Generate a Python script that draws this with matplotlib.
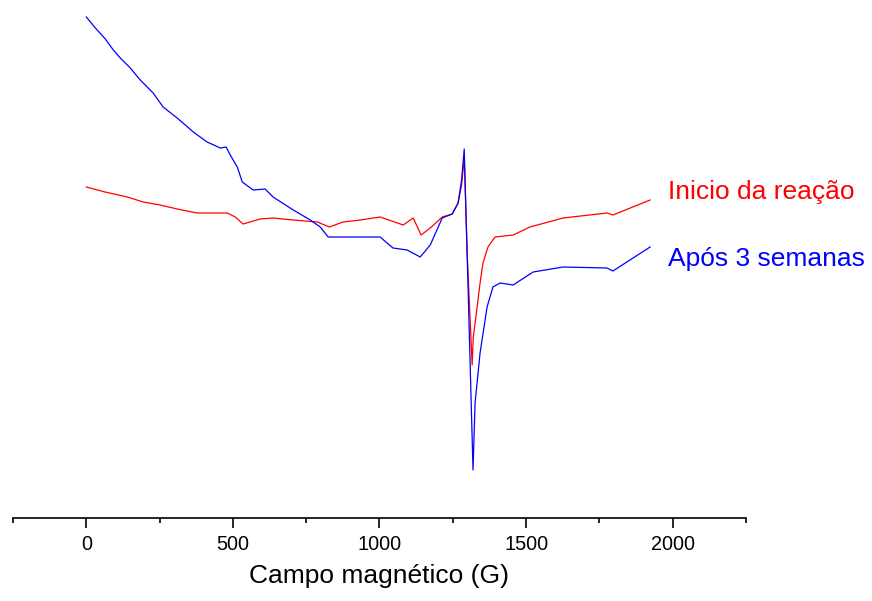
import numpy as np
import matplotlib.pyplot as plt
from matplotlib.ticker import MultipleLocator

plt.rcParams['font.family'] = ['Liberation Sans', 'DejaVu Sans']

# EPR spectra, field in G, intensity in arbitrary units
field_inicio = [0, 64, 140, 194, 252, 310, 378, 481, 508, 535, 593, 637, 706, 788,
                829, 876, 934, 1002, 1081, 1115, 1142, 1173, 1214, 1248, 1268, 1280,
                1289, 1299, 1316, 1320, 1333, 1343, 1353, 1370, 1394, 1456, 1513,
                1626, 1776, 1796, 1923]
sinal_inicio = [63, 58, 53, 48, 45, 41, 37, 37, 33, 26, 31, 32, 30, 28,
                23, 28, 30, 33, 25, 32, 15, 22, 33, 36, 47, 65,
                92, -3, -115, -87, -57, -33, -13, 3, 13, 15, 23,
                32, 37, 35, 50]

field_3sem = [0, 31, 65, 92, 116, 150, 184, 228, 262, 310, 365, 412, 457, 477, 491,
              515, 532, 569, 610, 637, 706, 764, 798, 825, 934, 1002, 1046, 1094,
              1139, 1173, 1214, 1248, 1268, 1280, 1289, 1302, 1319, 1326, 1343,
              1367, 1387, 1411, 1456, 1524, 1626, 1776, 1796, 1923]
sinal_3sem = [233, 222, 211, 200, 192, 182, 170, 157, 143, 132, 118, 108, 102, 103, 95,
              83, 68, 60, 61, 53, 40, 30, 23, 13, 13, 13, 2, 0,
              -7, 5, 32, 36, 47, 70, 101, -37, -220, -153, -103,
              -57, -37, -33, -35, -22, -17, -18, -21, 3]

fig = plt.figure(figsize=(8.72, 6.01), dpi=100)
ax = fig.add_axes([0.0149, 0.1381, 0.8406, 0.8619])

ax.plot(field_inicio, sinal_inicio, color='#ff0000', lw=0.9)
ax.plot(field_3sem, sinal_3sem, color='#0000ff', lw=0.9)

ax.text(1984, 51, 'Inicio da reação', color='#ff0000', fontsize=19, va='baseline')
ax.text(1984, -16, 'Após 3 semanas', color='#0000ff', fontsize=19, va='baseline')

ax.set_xlim(-250, 2250)
ax.set_ylim(-268, 250)
ax.xaxis.set_major_locator(MultipleLocator(500))
ax.xaxis.set_minor_locator(MultipleLocator(250))
ax.tick_params(axis='x', which='major', length=7.2, width=1.2, pad=5, labelsize=14.3)
ax.tick_params(axis='x', which='minor', length=3.6, width=1.2)
ax.set_yticks([])
for side in ['top', 'right', 'left']:
    ax.spines[side].set_visible(False)
ax.spines['bottom'].set_linewidth(1.2)
ax.set_xlabel('Campo magnético (G)', fontsize=19, labelpad=7)

fig.savefig('out.png', dpi=100)
